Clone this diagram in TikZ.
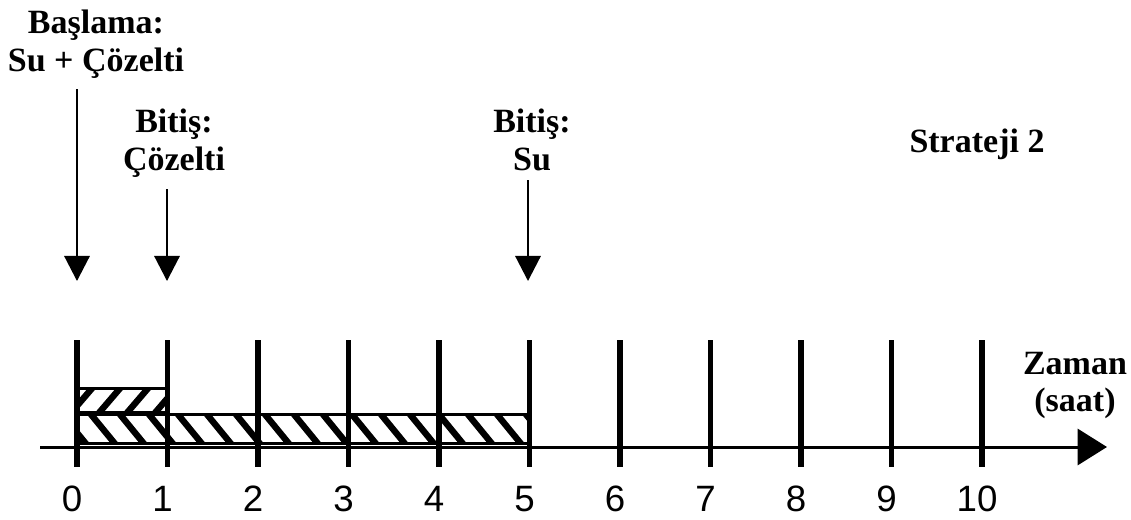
\documentclass[tikz,border=0pt]{standalone}
\usepackage{fontspec}
\setmainfont{Liberation Serif}
\newfontfamily\numfont{Liberation Sans}
\usetikzlibrary{arrows.meta}

\tikzset{
  lbl/.style={font=\fontsize{25.5}{28}\selectfont\bfseries, align=center, inner sep=0pt},
  num/.style={font=\numfont\fontsize{27.5}{30}\selectfont, inner sep=0pt, anchor=base},
  tickline/.style={line width=4pt},
  pointer/.style={line width=1.5pt, -{Triangle[length=18.75pt,width=19pt]}},
  axisline/.style={line width=2.25pt, -{Triangle[length=22pt,width=27pt]}},
  hatchline/.style={line width=4.8pt},
  boxline/.style={line width=2.25pt}
}

\begin{document}
\begin{tikzpicture}[x=0.75pt, y=-0.75pt]
    \useasboundingbox (0,0) rectangle (1131,520);

    % Zaman ekseni
    \coordinate (axstart) at (40,447);
    \coordinate (axend) at (1107,447);

    % Saat cizgileri ve etiketleri
    \foreach \i in {0,...,10} {
        \coordinate (t\i) at ({77+90.5*\i},340);
        \coordinate (b\i) at ({77+90.5*\i},467);
        \node[num] (n\i) at ({72+90.5*\i},511) {\i};
    }

    % Cozelti: 0-1 saat, taralı ( / )
    \begin{scope}
        \clip (t0 |- 0,388) rectangle (t1 |- 0,412);
        \foreach \k in {-1,...,4}
            \draw[hatchline] ({70+28*\k},414) -- ++(24,-28);
    \end{scope}
    \draw[boxline] (t0 |- 0,388) rectangle (t1 |- 0,412);

    % Su: 0-5 saat, taralı ( \ )
    \begin{scope}
        \clip (t0 |- 0,414) rectangle (t5 |- 0,443);
        \foreach \k in {-1,...,17}
            \draw[hatchline] ({60+29*\k},412) -- ++(27,33);
    \end{scope}
    \draw[boxline] (t0 |- 0,414) rectangle (t5 |- 0,443);

    \draw[axisline] (axstart) -- (axend);
    \foreach \i in {0,...,10}
        \draw[tickline] (t\i) -- (b\i);

    % Basla / bitis etiketleri
    \node[lbl, anchor=north] (start) at (96,10) {Başlama:\\Su + Çözelti};
    \node[lbl, anchor=north] (endsol) at (174,109) {Bitiş:\\Çözelti};
    \node[lbl, anchor=north] (endwat) at (532,109) {Bitiş:\\Su};

    \coordinate (p0) at (77,281);
    \coordinate (p1) at (167,281);
    \coordinate (p5) at (528,281);

    \draw[pointer, shorten <=8pt] (start.south -| p0) -- (p0);
    \draw[pointer, shorten <=9pt] (endsol.south -| p1) -- (p1);
    \draw[pointer, shorten <=7pt] (endwat.south -| p5) -- (p5);

    \node[lbl, anchor=base] (strat) at (977,153) {Strateji 2};
    \node[lbl, anchor=north] (unit) at (1075,352) {Zaman\\(saat)};
\end{tikzpicture}
\end{document}
